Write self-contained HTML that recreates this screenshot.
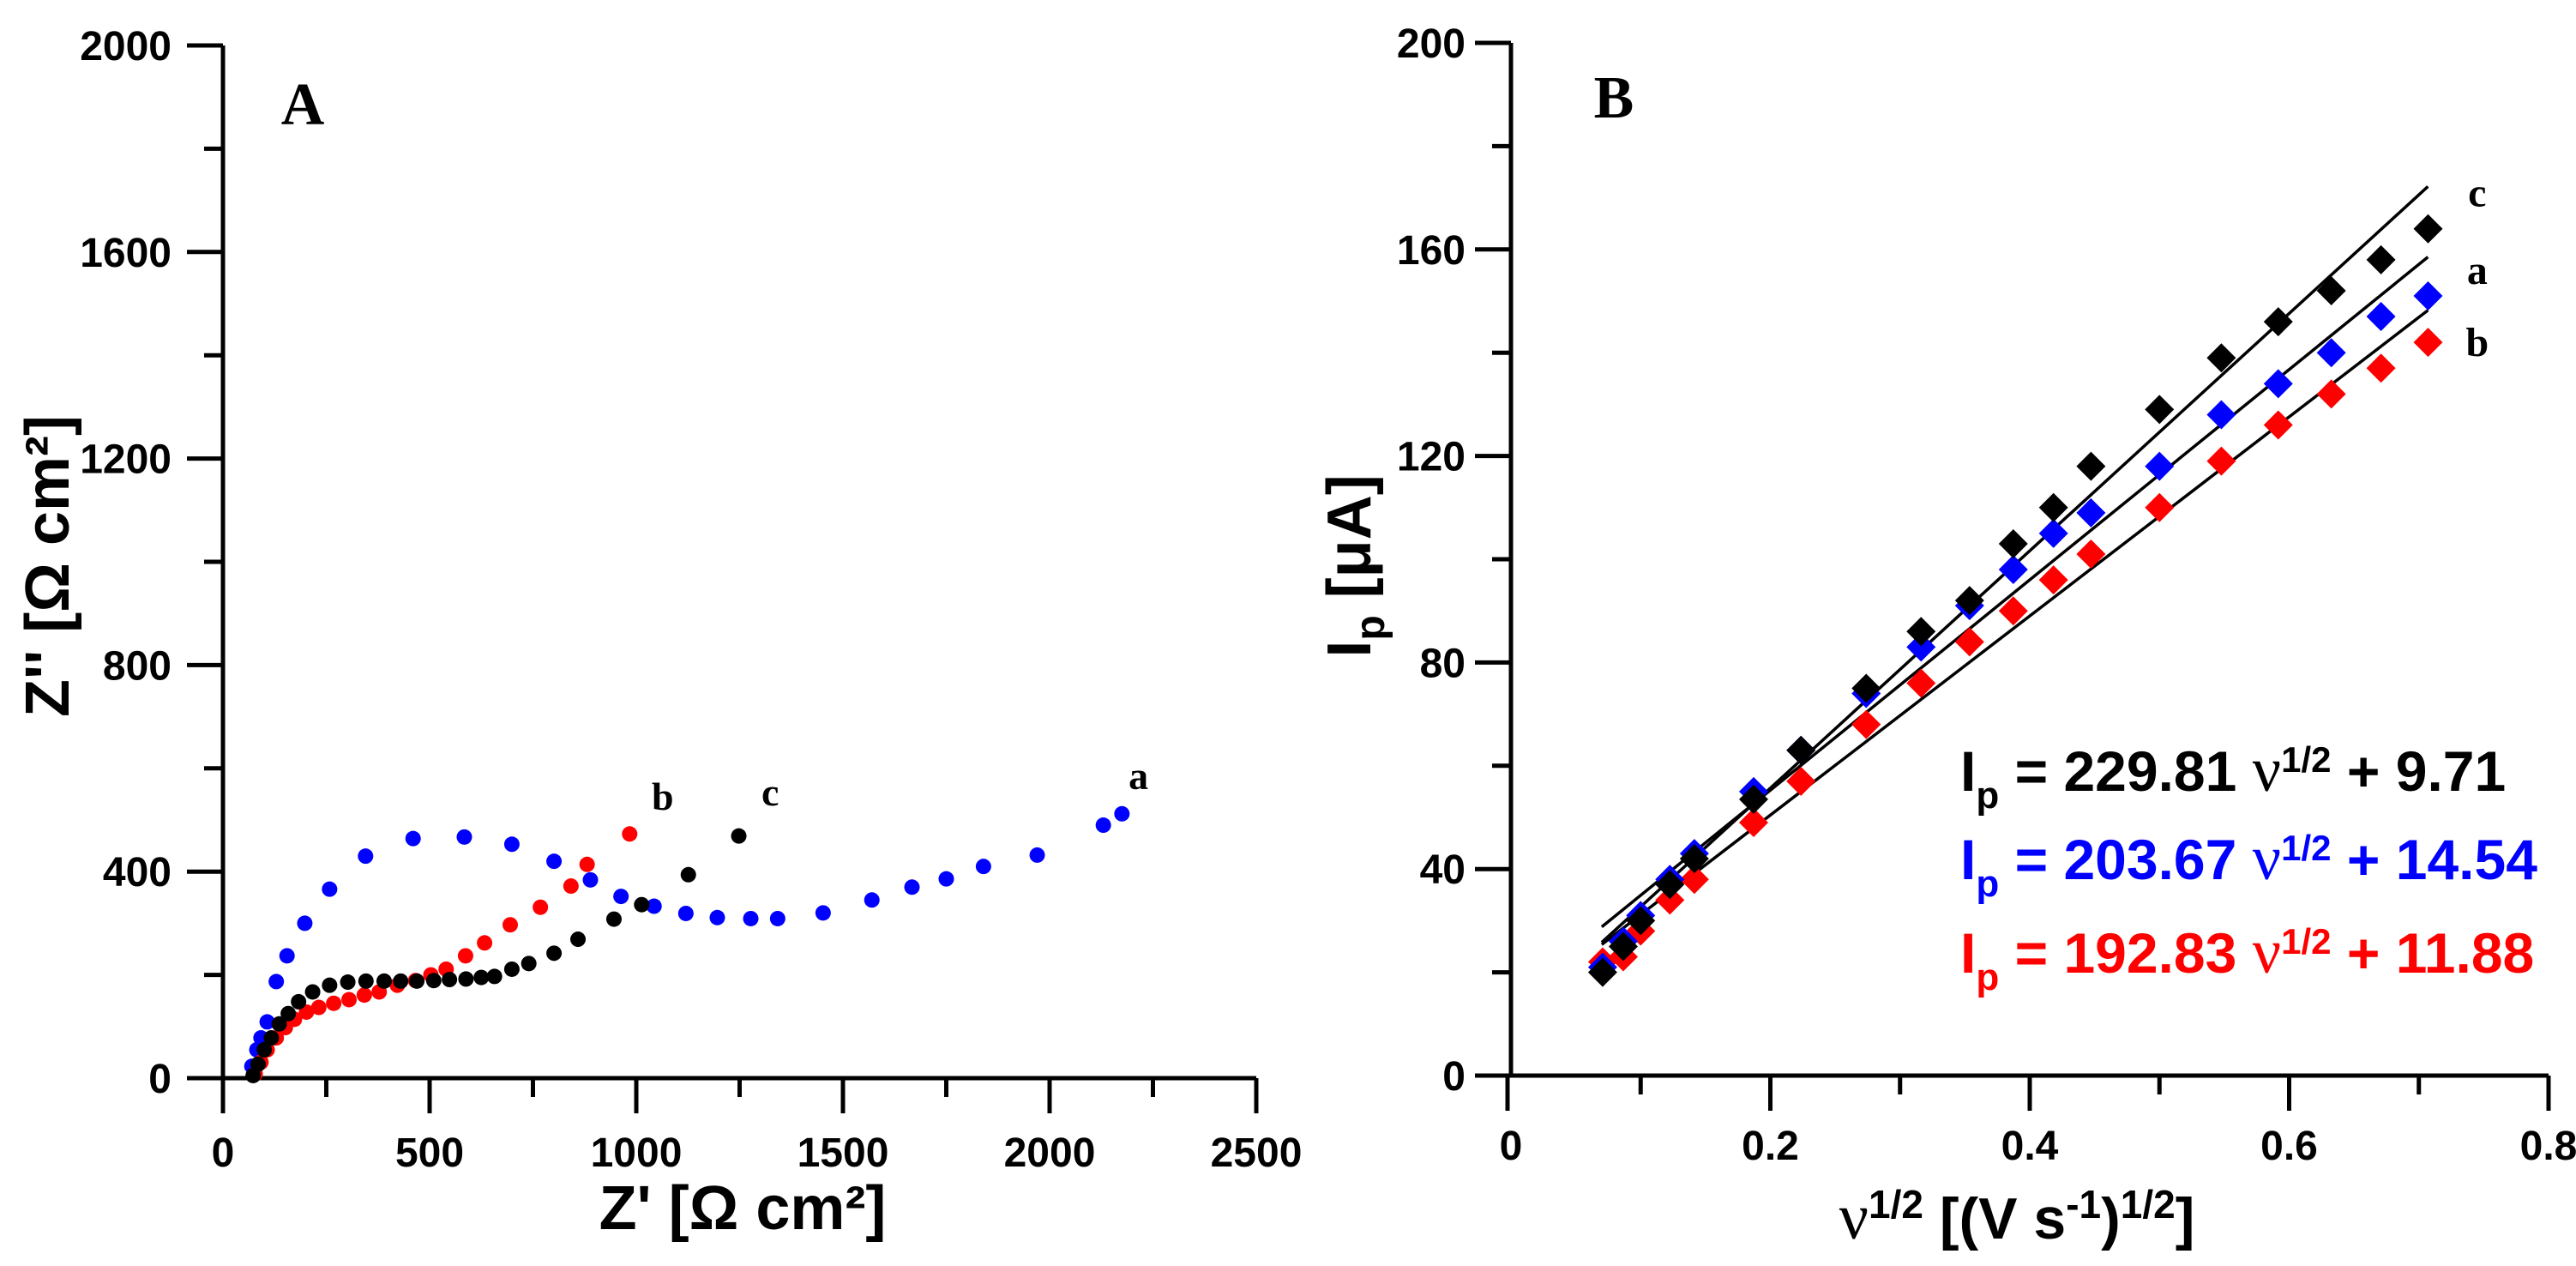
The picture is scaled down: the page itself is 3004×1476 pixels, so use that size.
<!DOCTYPE html>
<html><head><meta charset="utf-8"><style>
html,body{margin:0;padding:0;background:#fff}
svg{display:block}
text{font-family:"Liberation Sans",Arial,sans-serif;font-weight:bold}
text.serif,tspan.serif{font-family:"Liberation Serif","Times New Roman",serif}
</style></head><body>
<svg id="chart" width="3004" height="1476" viewBox="0 0 3004 1476" xmlns="http://www.w3.org/2000/svg">
<g id="pa"></g>
<g id="pb"></g>
</svg>
<script>
// Panel A data
const aXTicks=[0,500,1000,1500,2000,2500];
const aYTicks=[0,400,800,1200,1600,2000];
const aBlueX=[70,82,92,107,129,155,198,258,345,460,584,699,801,889,963,1043,1120,1196,1277,1342,1452,1570,1667,1750,1840,1970,2130,2175];
const aBlueY=[23,55,78,109,187,237,300,366,430,464,467,453,420,384,352,333,319,311,309,309,320,345,370,386,410,432,490,512];
const aRedX=[78,92,107,129,151,173,202,232,268,305,342,378,422,466,503,540,587,633,695,768,842,881,984];
const aRedY=[8,31,55,78,98,114,128,137,145,152,161,167,180,189,200,211,237,262,297,331,372,414,473];
const aBlackX=[73,85,100,117,136,158,183,217,258,302,346,390,430,469,510,548,588,625,657,699,740,801,859,946,1013,1126,1248];
const aBlackY=[5,27,55,78,105,125,148,167,180,186,188,188,188,188,189,191,192,195,197,211,222,242,269,308,336,394,469];
// Panel B data
const bXTicks=[0,0.2,0.4,0.6,0.8];
const bXTickLabels=["0","0.2","0.4","0.6","0.8"];
const bYTicks=[0,40,80,120,160,200];
const bX=[0.0707,0.0866,0.1,0.1225,0.1414,0.1871,0.2236,0.2739,0.3162,0.3536,0.3873,0.4183,0.4472,0.5,0.5477,0.5916,0.6325,0.6708,0.7071];
const bBlack=[20,25,30,37,42,53.5,63,75,86,92,103,110,118,129,139,146,152,158,164];
const bBlue=[21,26,31,38,43,55,63,74,83,91,98,105,109,118,128,134,140,147,151];
const bRed=[22,23,28,34,38,49,57,68,76,84,90,96,101,110,119,126,132,137,142];
const bSlopes=[229.81,203.67,192.83];
const bIntercepts=[9.71,14.54,11.88];

const NS="http://www.w3.org/2000/svg";
function mk(parent,tag,attrs,txt){const e=document.createElementNS(NS,tag);for(const k in attrs)e.setAttribute(k,attrs[k]);if(txt!==undefined)e.textContent=txt;parent.appendChild(e);return e;}

// Panel A
const pa=document.getElementById('pa');
const ax=v=>260+v*(1465-260)/2500, ay=v=>1257-v*(1257-53)/2000;
let e;
e=mk(pa,'path',{d:`M260,53 V1298 M218,1257 H1465`,stroke:'#000','stroke-width':5,fill:'none'});


for(let v=0;v<=2000;v+=200){const big=v%400===0;e=mk(pa,'line',{x1:big?218:238,x2:260,y1:ay(v),y2:ay(v),stroke:'#000','stroke-width':5});

}
for(let v=0;v<=2500;v+=250){const big=v%500===0;e=mk(pa,'line',{x1:ax(v),x2:ax(v),y1:1257,y2:big?1298:1279,stroke:'#000','stroke-width':5});

}
aYTicks.forEach(v=>{e=mk(pa,'text',{x:200,y:ay(v)+17,'font-size':48,'text-anchor':'end'},String(v));

});
aXTicks.forEach(v=>{e=mk(pa,'text',{x:ax(v),y:1360,'font-size':48,'text-anchor':'middle'},String(v));

});
e=mk(pa,'text',{x:866,y:1433,'font-size':72,'text-anchor':'middle'},"Z' [Ω cm²]");


e=mk(pa,'text',{x:0,y:0,'font-size':72,'text-anchor':'middle',transform:'translate(80,660) rotate(-90)'},"Z'' [Ω cm²]");


e=mk(pa,'text',{x:353,y:145,'font-size':70,'text-anchor':'middle','class':'serif'},"A");


function dotsA(xs,ys,col,name){xs.forEach((x,i)=>{const c=mk(pa,'circle',{cx:ax(x),cy:ay(ys[i]),r:9,fill:col});

});}
dotsA(aBlueX,aBlueY,'#0000ff','a-point-series-a');
dotsA(aRedX,aRedY,'#ff0000','a-point-series-b');
dotsA(aBlackX,aBlackY,'#000','a-point-series-c');
[["a",2215,560],["b",1064,520],["c",1324,528]].forEach(([t,x,y])=>{e=mk(pa,'text',{x:ax(x),y:ay(y),'font-size':46,'class':'serif','text-anchor':'middle'},t);

});

// Panel B
const pb=document.getElementById('pb');
const bx=v=>1762+v*(2972-1762)/0.8, by=v=>1254-v*(1254-50)/200;
e=mk(pb,'path',{d:`M1762,50 V1254 M1720,1254 H2972`,stroke:'#000','stroke-width':5,fill:'none'});


e=mk(pb,'line',{x1:1758,x2:1758,y1:1254,y2:1295,stroke:'#000','stroke-width':5});


for(let v=0;v<=200;v+=20){const big=v%40===0;e=mk(pb,'line',{x1:big?1720:1740,x2:1762,y1:by(v),y2:by(v),stroke:'#000','stroke-width':5});

}
for(let i=1;i<=8;i++){const v=i/10,big=i%2===0;e=mk(pb,'line',{x1:bx(v),x2:bx(v),y1:1254,y2:big?1295:1276,stroke:'#000','stroke-width':5});

}
bYTicks.forEach(v=>{e=mk(pb,'text',{x:1709,y:by(v)+17,'font-size':48,'text-anchor':'end'},String(v));

});
bXTicks.forEach((v,i)=>{e=mk(pb,'text',{x:bx(v),y:1352,'font-size':48,'text-anchor':'middle'},bXTickLabels[i]);

});
e=mk(pb,'text',{x:2352,y:1444,'font-size':68,'text-anchor':'middle'});
e.innerHTML='<tspan class="serif" font-weight="normal" font-size="76">ν</tspan><tspan font-size="46" dy="-24">1/2</tspan><tspan dy="24"> [(V s</tspan><tspan font-size="46" dy="-24">-1</tspan><tspan dy="24">)</tspan><tspan font-size="46" dy="-24">1/2</tspan><tspan dy="24">]</tspan>';


e=mk(pb,'text',{x:0,y:0,'font-size':72,'text-anchor':'middle',transform:'translate(1598,660) rotate(-90)'});
e.innerHTML='I<tspan font-size="48" dy="16">p</tspan><tspan dy="-16"> [μA]</tspan>';


e=mk(pb,'text',{x:1882,y:137,'font-size':70,'text-anchor':'middle','class':'serif'},"B");


// fit lines
const fitNames=['fit-line-c','fit-line-a','fit-line-b'];
bSlopes.forEach((m,i)=>{const x0=0.07,x1=0.707;e=mk(pb,'line',{x1:bx(x0),y1:by(m*x0+bIntercepts[i]),x2:bx(x1),y2:by(m*x1+bIntercepts[i]),stroke:'#000','stroke-width':3.5});

});
function diam(ys,col,name){bX.forEach((x,i)=>{const cx=bx(x),cy=by(ys[i]),r=17;const p=mk(pb,'polygon',{points:`${cx},${cy-r} ${cx+r},${cy} ${cx},${cy+r} ${cx-r},${cy}`,fill:col});

});}
diam(bRed,'#ff0000','b-point-series-b');
diam(bBlue,'#0000ff','b-point-series-a');
diam(bBlack,'#000','b-point-series-c');
[["c",170],["a",155],["b",141]].forEach(([t,v])=>{e=mk(pb,'text',{x:bx(0.745),y:by(v)+10,'font-size':48,'class':'serif','text-anchor':'middle'},t);

});
const eqCols=['#000','#0000ff','#ff0000'],eqY=[922,1025,1134];
bSlopes.forEach((m,i)=>{e=mk(pb,'text',{x:2286,y:eqY[i],'font-size':66,fill:eqCols[i]});
e.innerHTML=`I<tspan font-size="44" dy="20">p</tspan><tspan dy="-20"> = ${m.toFixed(2)} </tspan><tspan class="serif" font-weight="normal" font-size="74">ν</tspan><tspan font-size="42" dy="-22">1/2</tspan><tspan dy="22"> + ${bIntercepts[i].toFixed(2)}</tspan>`;

});
</script>
</body></html>
